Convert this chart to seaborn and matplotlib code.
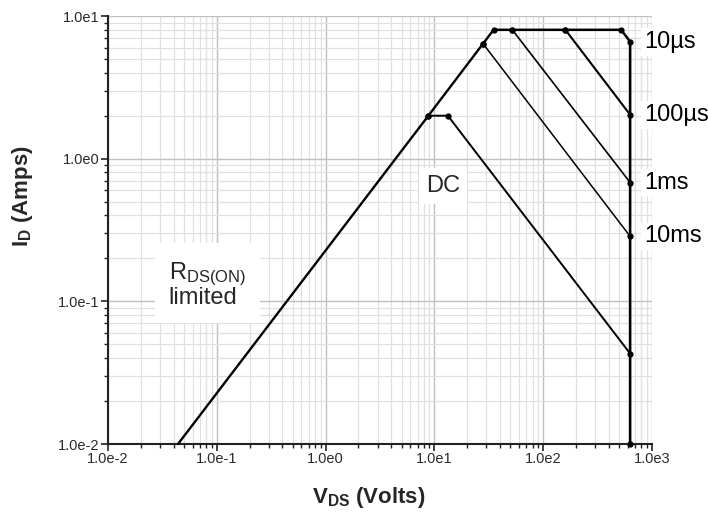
import matplotlib
matplotlib.use("Agg")
import matplotlib.pyplot as plt
import matplotlib.ticker as mticker
import seaborn as sns
import pandas as pd

# ---- data (Volts, Amps) ----
rds_v = [0.044, 8.8, 28.0, 35.0]
rds_i = [0.01, 2.0, 6.4, 8.0]

us10_v = [35.0, 52.0, 160.0, 520.0, 630.0, 630.0]
us10_i = [8.0, 8.0, 8.0, 8.0, 6.6, 0.01]

us100_v = [160.0, 630.0]
us100_i = [8.0, 2.03]

ms1_v = [52.0, 630.0]
ms1_i = [8.0, 0.68]

ms10_v = [28.0, 630.0]
ms10_i = [6.4, 0.285]

dc_v = [8.8, 13.3, 630.0]
dc_i = [2.0, 2.0, 0.043]

x_ticks = [1e-2, 1e-1, 1e0, 1e1, 1e2, 1e3]
x_tick_labels = ["1.0e-2", "1.0e-1", "1.0e0", "1.0e1", "1.0e2", "1.0e3"]
y_ticks = [1e-2, 1e-1, 1e0, 1e1]
y_tick_labels = ["1.0e-2", "1.0e-1", "1.0e0", "1.0e1"]

pulse_labels = ["10\u00b5s", "100\u00b5s", "1ms", "10ms"]
pulse_label_i = [us10_i[-2], us100_i[-1], ms1_i[-1], ms10_i[-1]]

sns.set_theme(style="white")
plt.rcParams["font.family"] = ["Liberation Sans", "DejaVu Sans"]
plt.rcParams["mathtext.fontset"] = "custom"
plt.rcParams["mathtext.rm"] = "Liberation Sans"
plt.rcParams["mathtext.bf"] = "Liberation Sans:bold"

fig = plt.figure(figsize=(7.08, 5.19), dpi=100)
ax = fig.add_axes([108 / 708, 1 - 444 / 519, (652 - 108) / 708, (444 - 16) / 519])

ax.set_xscale("log")
ax.set_yscale("log")
ax.set_xlim(1e-2, 1e3)
ax.set_ylim(1e-2, 1e1)

series = [
    (rds_v, rds_i, 1.7, False),
    (dc_v, dc_i, 1.4, True),
    (ms10_v, ms10_i, 1.1, True),
    (ms1_v, ms1_i, 1.2, True),
    (us100_v, us100_i, 1.5, True),
    (us10_v, us10_i, 1.8, True),
]
for v, i, lw, mk in series:
    df = pd.DataFrame({"V": v, "I": i})
    sns.lineplot(data=df, x="V", y="I", ax=ax, sort=False, estimator=None,
                 color="black", linewidth=lw, zorder=3,
                 marker="o" if mk else None, markersize=4.5,
                 markeredgewidth=0, clip_on=False)

# RDS corner markers
sns.scatterplot(x=rds_v[1:3], y=rds_i[1:3], ax=ax, color="black", s=20,
                linewidth=0, zorder=4)

# grid
ax.grid(True, which="major", color="#c0c0c0", linewidth=1.0, zorder=0)
ax.grid(True, which="minor", color="#e0e0e0", linewidth=0.9, zorder=0)
ax.set_axisbelow(True)

ax.xaxis.set_major_locator(mticker.FixedLocator(x_ticks))
ax.yaxis.set_major_locator(mticker.FixedLocator(y_ticks))
ax.xaxis.set_minor_locator(mticker.LogLocator(base=10, subs=range(2, 10), numticks=20))
ax.yaxis.set_minor_locator(mticker.LogLocator(base=10, subs=range(2, 10), numticks=20))
ax.xaxis.set_minor_formatter(mticker.NullFormatter())
ax.yaxis.set_minor_formatter(mticker.NullFormatter())
ax.set_xticklabels(x_tick_labels)
ax.set_yticklabels(y_tick_labels)

ax.tick_params(which="major", direction="out", length=5, width=1.2, color="#222222",
               labelsize=10.5, labelcolor="#2a2a2a", pad=1,
               bottom=True, left=True, top=False, right=False)
ax.tick_params(which="minor", direction="out", length=3, width=1.0, color="#222222",
               bottom=True, left=True, top=False, right=False)

for s in ["top", "right"]:
    ax.spines[s].set_visible(False)
for s in ["left", "bottom"]:
    ax.spines[s].set_color("#222222")
    ax.spines[s].set_linewidth(1.5)

ax.set_xlabel(r"$\mathbf{V_{DS}}$ (Volts)", fontsize=16, fontweight="bold", va="center")
ax.set_ylabel(r"$\mathbf{I_{D}}$ (Amps)", fontsize=16, fontweight="bold", va="center")
ax.xaxis.set_label_coords(0.48, -0.124)
ax.yaxis.set_label_coords(-0.158, 0.58)

# pulse-duration labels
for lab, yv in zip(pulse_labels, pulse_label_i):
    ax.text(0.985, yv, lab, transform=ax.get_yaxis_transform(), ha="left",
            va="center", fontsize=17, color="black", clip_on=False,
            bbox=dict(facecolor="white", edgecolor="none", pad=2))

ax.text(12.0, 0.64, "DC", ha="center", va="center", fontsize=17,
        bbox=dict(facecolor="white", edgecolor="none", pad=5), zorder=2)
ax.text(0.036, 0.13, "$\\mathregular{R_{DS(ON)}}$\nlimited", ha="left", va="center",
        fontsize=17, linespacing=0.95,
        bbox=dict(facecolor="white", edgecolor="none", pad=10), zorder=2)

fig.savefig("out.png", dpi=100)
